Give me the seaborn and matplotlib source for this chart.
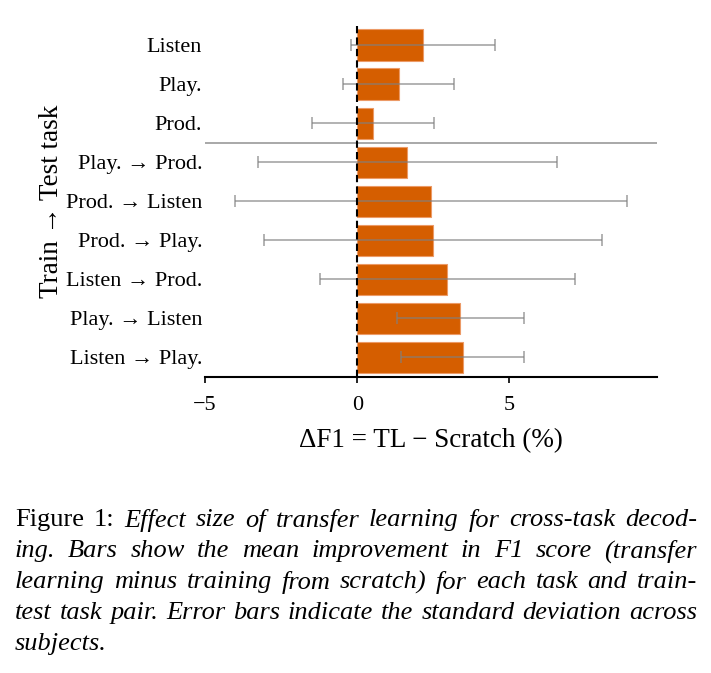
import matplotlib
matplotlib.use("Agg")
import matplotlib.pyplot as plt
import seaborn as sns

# ── Data ──────────────────────────────────────────────────────────────────
labels = [
    "Listen", "Play.", "Prod.",
    "Play. → Prod.", "Prod. → Listen", "Prod. → Play.",
    "Listen → Prod.", "Play. → Listen", "Listen → Play.",
]
mean_delta = [2.16, 1.37, 0.53, 1.65, 2.42, 2.49, 2.96, 3.39, 3.46]
std_delta  = [2.37, 1.82, 2.00, 4.90, 6.45, 5.55, 4.18, 2.09, 2.03]
x_ticks    = [-5, 0, 5]

caption_lines = [
    [("Figure", "normal"), ("1:", "normal"), ("Effect", "italic"), ("size", "italic"),
     ("of", "italic"), ("transfer", "italic"), ("learning", "italic"), ("for", "italic"),
     ("cross-task", "italic"), ("decod-", "italic")],
    "ing.  Bars show the mean improvement in F1 score (transfer",
    "learning minus training from scratch) for each task and train-",
    "test task pair. Error bars indicate the standard deviation across",
    "subjects.",
]

BAR_COLOR = "#d55e00"

# ── Style ─────────────────────────────────────────────────────────────────
sns.set_style("white")
plt.rcParams["font.family"] = ["Liberation Serif", "DejaVu Serif"]
plt.rcParams["axes.unicode_minus"] = True

fig = plt.figure(figsize=(7.11, 6.73), dpi=100)
ax = fig.add_axes([205 / 711, 1 - 377 / 673, 452 / 711, 351.5 / 673])

sns.barplot(x=mean_delta, y=labels, orient="h", color=BAR_COLOR, saturation=1,
            edgecolor="#ec9a66", linewidth=0.8, errorbar=None, ax=ax, zorder=2)

ax.errorbar(mean_delta, range(len(labels)), xerr=std_delta, fmt="none",
            ecolor="gray", alpha=0.6, elinewidth=1.4, capsize=4, capthick=1.4,
            zorder=3)

ax.axvline(0, color="black", linestyle=(0, (3.5, 2)), linewidth=1.5, zorder=4)
ax.axhline(2.5, color="#9a9a9a", linewidth=1.2, zorder=1)

ax.set_xlim(-5, 9.85)
ax.set_ylim(len(labels) - 0.5, -0.5)
ax.set_xticks(x_ticks)
for s in ["top", "right", "left"]:
    ax.spines[s].set_visible(False)
ax.spines["bottom"].set_linewidth(1.5)
ax.spines["bottom"].set_color("black")
ax.tick_params(axis="x", direction="out", length=4.5, width=1.2, pad=9,
               labelsize=16, colors="black", bottom=True)
ax.tick_params(axis="y", length=0, pad=2, labelsize=16, colors="black")

ax.set_xlabel("ΔF1 = TL − Scratch (%)", fontsize=19.5, color="black")
ax.xaxis.set_label_coords(0.5, -0.145)
ax.set_ylabel("Train → Test task", fontsize=19.5, color="black")
ax.yaxis.set_label_coords(-0.313, 0.5)

# ── Caption (justified, like the paper) ───────────────────────────────────
renderer = fig.canvas.get_renderer()
W, H = 711, 673
left_px, right_px = 15, 697
y_px = [520, 551, 582, 613, 644]
cap_size = 19
for i, line in enumerate(caption_lines):
    if isinstance(line, str):
        words = [(w, "italic") for w in line.split()]
    else:
        words = line
    texts = []
    for w, style in words:
        t = fig.text(0, 1 - y_px[i] / H, w, fontsize=cap_size, style=style,
                     va="center", ha="left", color="black")
        texts.append(t)
    widths = [t.get_window_extent(renderer).width for t in texts]
    last = i == len(caption_lines) - 1
    if last or len(texts) == 1:
        gap = 0.25 * cap_size * 100 / 72
    else:
        gap = (right_px - left_px - sum(widths)) / (len(texts) - 1)
    x = left_px
    for t, w in zip(texts, widths):
        t.set_x(x / W)
        x += w + gap

fig.savefig("out.png", dpi=100)
